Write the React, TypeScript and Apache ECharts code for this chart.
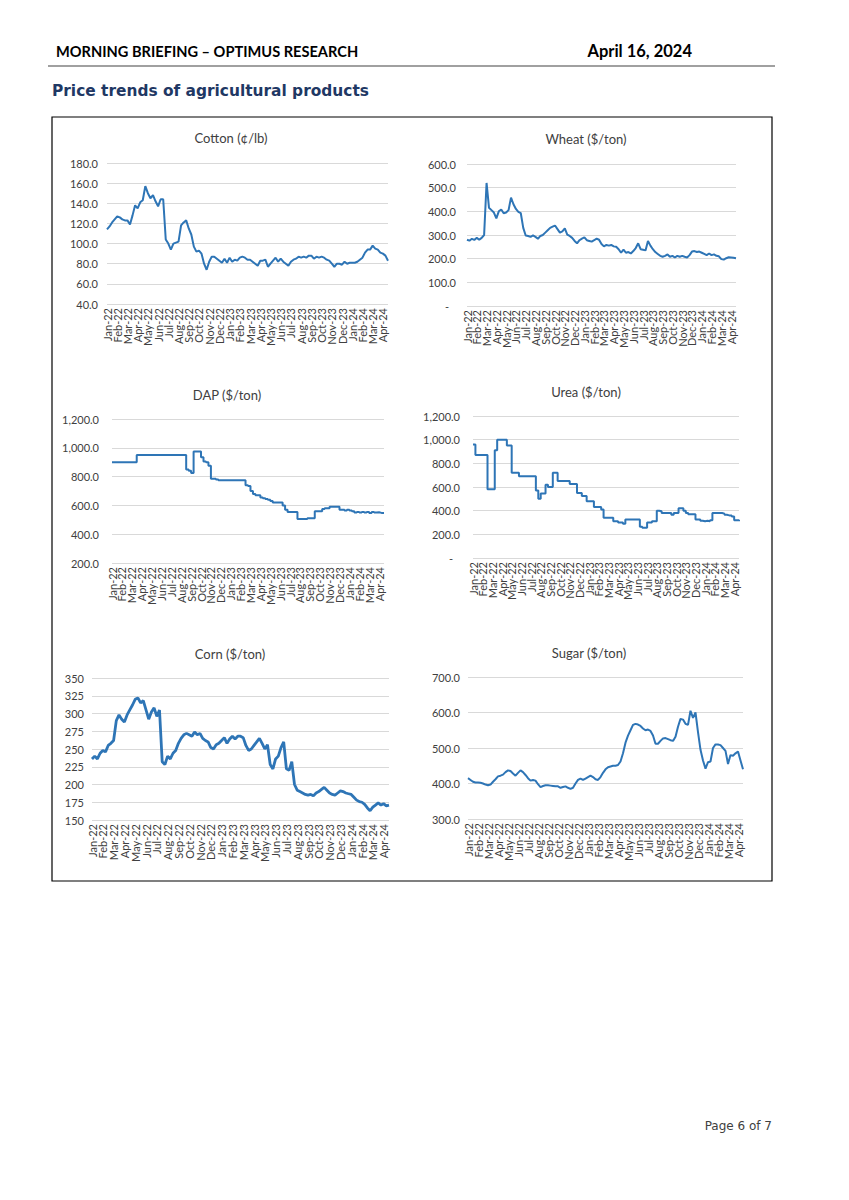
import React, { useEffect, useRef } from "react";
import * as echarts from "echarts";

const MONTHS = [
  "Jan-22", "Feb-22", "Mar-22", "Apr-22", "May-22", "Jun-22", "Jul-22", "Aug-22", "Sep-22", "Oct-22", "Nov-22", "Dec-22",
  "Jan-23", "Feb-23", "Mar-23", "Apr-23", "May-23", "Jun-23", "Jul-23", "Aug-23", "Sep-23", "Oct-23", "Nov-23", "Dec-23",
  "Jan-24", "Feb-24", "Mar-24", "Apr-24",
];
// weekly observations: 4 per month, 3 in the (partial) last month
const CATEGORIES = MONTHS.flatMap((m, i) =>
  Array.from({ length: i === MONTHS.length - 1 ? 3 : 4 }, (_, k) => `${m}|${k + 1}`)
);

const COTTON = [
  114, 117, 121, 124, 127, 126, 124, 123, 123, 119, 128, 138, 135, 141, 143, 157,
  150, 145, 148, 142, 137, 144, 144, 104, 100, 94, 100, 101, 102, 118, 121, 123,
  115, 109, 97, 92, 93, 90, 80, 74, 82, 87, 87, 85, 83, 81, 85, 81,
  86, 82, 84, 83, 86, 87, 86, 84, 84, 82, 80, 78, 83, 83, 84, 77,
  80, 83, 86, 82, 85, 82, 80, 78, 82, 84, 85, 87, 86, 87, 86, 88,
  88, 85, 87, 86, 87, 86, 84, 83, 80, 77, 80, 80, 79, 82, 80, 81,
  81, 81, 82, 84, 86, 91, 94, 94, 98, 95, 94, 91, 90, 88, 83,
];

const WHEAT = [
  280, 276, 284, 279, 288, 280, 288, 300, 520, 415, 405, 395, 370, 400, 408, 392,
  395, 405, 458, 430, 410, 398, 392, 330, 298, 296, 292, 298, 292, 284, 296, 300,
  310, 320, 330, 335, 340, 325, 310, 315, 328, 302, 296, 288, 275, 265, 278, 285,
  290, 278, 275, 272, 278, 285, 280, 262, 252, 258, 255, 258, 252, 250, 240, 225,
  238, 225, 228, 222, 232, 245, 265, 240, 238, 235, 275, 255, 240, 228, 220, 212,
  208, 212, 218, 208, 212, 205, 212, 208, 212, 208, 205, 215, 230, 232, 228, 230,
  225, 220, 215, 222, 215, 218, 212, 210, 198, 196, 202, 206, 205, 204, 202,
];

const DAP = [
  900, 900, 900, 900, 900, 900, 900, 900, 900, 900, 950, 950, 950, 950, 950, 950,
  950, 950, 950, 950, 950, 950, 950, 950, 950, 950, 950, 950, 950, 950, 850, 840,
  825, 975, 975, 975, 935, 905, 900, 875, 785, 785, 780, 775, 775, 775, 775, 775,
  775, 775, 775, 775, 775, 775, 740, 735, 700, 680, 670, 670, 655, 650, 645, 640,
  630, 620, 620, 620, 620, 600, 570, 555, 555, 555, 555, 505, 505, 505, 505, 510,
  510, 510, 560, 560, 560, 575, 580, 580, 590, 590, 590, 590, 570, 570, 565, 570,
  565, 560, 550, 555, 550, 555, 550, 555, 548, 555, 550, 552, 548, 548, 548,
];

const UREA = [
  960, 870, 870, 870, 870, 870, 580, 580, 580, 910, 1000, 1000, 1000, 1000, 950, 950,
  720, 720, 720, 690, 690, 690, 690, 690, 690, 690, 570, 500, 545, 545, 620, 600,
  600, 720, 720, 650, 650, 650, 650, 650, 625, 625, 625, 550, 550, 525, 525, 480,
  480, 480, 430, 430, 430, 410, 340, 340, 340, 340, 310, 310, 300, 300, 290, 325,
  325, 325, 325, 325, 325, 265, 255, 255, 300, 300, 310, 310, 400, 395, 380, 380,
  380, 380, 365, 380, 380, 420, 420, 400, 380, 370, 370, 370, 325, 325, 315, 310,
  315, 310, 320, 380, 380, 380, 380, 375, 365, 360, 360, 350, 320, 320, 310,
];

const CORN = [
  236, 240, 236, 244, 248, 246, 255, 258, 262, 290, 298, 292, 288, 298, 305, 312,
  320, 322, 315, 318, 305, 292, 302, 308, 296, 305, 232, 228, 240, 236, 244, 248,
  258, 265, 270, 272, 270, 268, 274, 270, 272, 265, 262, 260, 252, 250, 256, 258,
  262, 266, 258, 264, 268, 264, 268, 268, 266, 255, 248, 250, 255, 260, 265, 258,
  250, 256, 228, 222, 236, 240, 252, 260, 222, 220, 232, 200, 192, 190, 188, 186,
  185, 186, 184, 188, 190, 193, 196, 192, 188, 186, 185, 188, 191, 190, 188, 187,
  186, 182, 178, 176, 175, 172, 167, 163, 168, 171, 174, 171, 173, 170, 171,
];

const SUGAR = [
  415, 410, 405, 403, 403, 402, 400, 397, 395, 397, 405, 412, 420, 422, 425, 432,
  437, 435, 428, 422, 430, 437, 432, 424, 415, 408, 410, 408, 398, 390, 393, 395,
  395, 394, 393, 392, 392, 388, 390, 392, 388, 385, 388, 400, 410, 414, 410, 414,
  418, 422, 418, 412, 410, 418, 430, 440, 446, 448, 450, 450, 452, 462, 485, 515,
  535, 550, 565, 568, 566, 562, 555, 550, 552, 548, 535, 512, 512, 520, 527, 528,
  525, 522, 520, 532, 560, 582, 580, 568, 565, 605, 585, 600, 545, 495, 465, 442,
  460, 462, 500, 510, 510, 508, 500, 492, 455, 480, 478, 485, 490, 465, 440,
];

const FONT = 'Lato, "Liberation Sans", sans-serif';
const TEXT = "#404040";
const LINE = "#2E75B6";
const GRIDLINE = "#d9d9d9";

const fmtDec = (v: number) =>
  v === 0
    ? "{dash|-}"
    : v.toLocaleString("en-US", { minimumFractionDigits: 1, maximumFractionDigits: 1 });
const fmtInt = (v: number) => String(v);
// month label on the first week of each month only
const fmtMonth = (val: string) => {
  const [m, w] = val.split("|");
  return w === "1" ? m : "";
};

const PANELS = [
  { name: "Cotton (¢/lb)", data: COTTON, min: 40, max: 180, interval: 20, fmt: fmtDec, left: 107, top: 163, width: 281, height: 141, tx: 231, ty: 138, ym: 9, step: false, lw: 2 },
  { name: "Wheat ($/ton)", data: WHEAT, min: 0, max: 600, interval: 100, fmt: fmtDec, left: 467, top: 164, width: 269, height: 142, tx: 586, ty: 139, ym: 11, step: false, lw: 2 },
  { name: "DAP ($/ton)", data: DAP, min: 200, max: 1200, interval: 200, fmt: fmtDec, left: 112, top: 419, width: 272, height: 144, tx: 227, ty: 395, ym: 13, step: true, lw: 2 },
  { name: "Urea ($/ton)", data: UREA, min: 0, max: 1200, interval: 200, fmt: fmtDec, left: 473, top: 416, width: 266, height: 142, tx: 586, ty: 392, ym: 13, step: true, lw: 2 },
  { name: "Corn ($/ton)", data: CORN, min: 150, max: 350, interval: 25, fmt: fmtInt, left: 92, top: 678, width: 297, height: 142, tx: 230, ty: 654, ym: 8, step: false, lw: 2.8 },
  { name: "Sugar ($/ton)", data: SUGAR, min: 300, max: 700, interval: 100, fmt: fmtDec, left: 468, top: 677, width: 275, height: 142, tx: 589, ty: 653, ym: 8, step: false, lw: 2 },
];

export default function App() {
  const ref = useRef<HTMLDivElement>(null);
  useEffect(() => {
    if (!ref.current) return;
    const chart = echarts.init(ref.current, null, { renderer: "svg" });
    const option: any = {
      animation: false,
      backgroundColor: "#ffffff",
      grid: PANELS.map((p) => ({ left: p.left, top: p.top, width: p.width, height: p.height, containLabel: false })),
      xAxis: PANELS.map((p, i) => ({
        type: "category",
        gridIndex: i,
        data: CATEGORIES,
        boundaryGap: false,
        axisLine: { show: false },
        axisTick: { show: false },
        splitLine: { show: false },
        axisLabel: {
          interval: 0,
          formatter: fmtMonth,
          hideOverlap: false,
          rotate: 90,
          margin: 4,
          fontSize: 11,
          color: TEXT,
          fontFamily: FONT,
        },
      })),
      yAxis: PANELS.map((p, i) => ({
        type: "value",
        gridIndex: i,
        min: p.min,
        max: p.max,
        interval: p.interval,
        axisLine: { show: false },
        axisTick: { show: false },
        splitLine: { show: true, lineStyle: { color: GRIDLINE, width: 1 } },
        axisLabel: {
          formatter: p.fmt,
          margin: p.ym,
          fontSize: 11,
          color: TEXT,
          fontFamily: FONT,
          showMinLabel: true,
          showMaxLabel: true,
          rich: { dash: { padding: [0, 7, 0, 0], fontSize: 11, color: TEXT, fontFamily: FONT } },
        },
      })),
      series: PANELS.map((p, i) => ({
        type: "line",
        name: p.name,
        xAxisIndex: i,
        yAxisIndex: i,
        data: p.data,
        step: p.step ? "end" : false,
        symbol: "none",
        showSymbol: false,
        lineStyle: { color: LINE, width: p.lw },
        itemStyle: { color: LINE },
      })),
      graphic: [
        {
          type: "text", x: 56, y: 51,
          style: { text: "MORNING BRIEFING – OPTIMUS RESEARCH", font: 'bold 14.6px Lato, sans-serif', fill: "#000", align: "left", verticalAlign: "middle" },
        },
        {
          type: "text", x: 692, y: 51,
          style: { text: "April 16, 2024", font: 'bold 16.5px Lato, sans-serif', fill: "#000", align: "right", verticalAlign: "middle" },
        },
        { type: "line", shape: { x1: 48, y1: 66, x2: 775, y2: 66 }, style: { stroke: "#808080", lineWidth: 1.5 } },
        {
          type: "text", x: 52, y: 91,
          style: { text: "Price trends of agricultural products", font: 'bold 15.4px "DejaVu Sans", sans-serif', fill: "#1F3864", align: "left", verticalAlign: "middle" },
        },
        { type: "rect", shape: { x: 52, y: 117, width: 720, height: 764 }, style: { fill: "none", stroke: "#000", lineWidth: 1.2 } },
        ...PANELS.map((p) => ({
          type: "text", x: p.tx, y: p.ty,
          style: { text: p.name, font: `13px ${FONT}`, fill: TEXT, align: "center", verticalAlign: "middle" },
        })),
        {
          type: "text", x: 772, y: 1126,
          style: { text: "Page 6 of 7", font: '12px "DejaVu Sans", sans-serif', fill: "#404040", align: "right", verticalAlign: "middle" },
        },
      ],
    };
    chart.setOption(option);
    return () => chart.dispose();
  }, []);
  return (
    <div
      ref={ref}
      style={{ position: "absolute", left: 0, top: 0, width: 849, height: 1200, background: "#fff" }}
    />
  );
}
